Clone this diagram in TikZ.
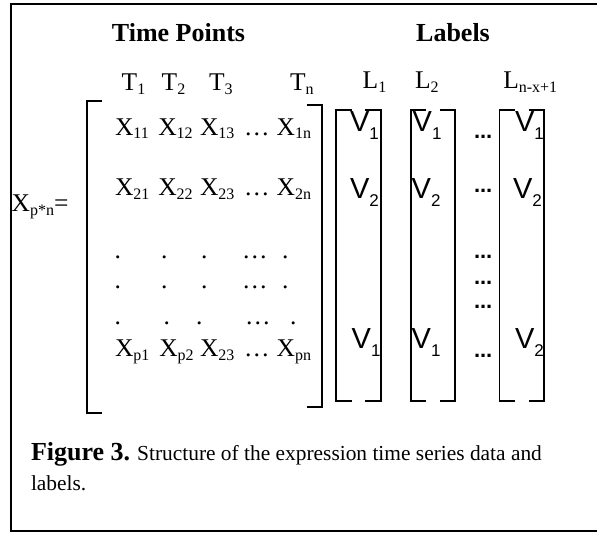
\documentclass[tikz,border=0pt]{standalone}
\usepackage{fontspec}
\setmainfont{Liberation Serif}
\setsansfont{Liberation Sans}
\newcommand\msub[1]{\raisebox{-3.5pt}{\fontsize{16}{18}\selectfont #1}}
\newcommand\vsub[1]{\raisebox{-8pt}{\fontsize{17}{19}\selectfont\sffamily #1}}
\tikzset{
  txt/.style={inner sep=0pt, outer sep=0pt, anchor=base west},
  head/.style={inner sep=0pt, outer sep=0pt, anchor=base, font=\fontsize{26}{30}\selectfont\bfseries},
  mtx/.style={txt, font=\fontsize{25.5}{30}\selectfont},
  vv/.style={txt, font=\fontsize{29}{32}\selectfont\sffamily},
  ell/.style={txt, font=\fontsize{22}{26}\selectfont\sffamily\bfseries},
  capb/.style={txt, font=\fontsize{26}{30}\selectfont\bfseries},
  capr/.style={txt, font=\fontsize{21.4}{25}\selectfont},
  brk/.style={line width=1.6pt},
  framebox/.style={line width=1.8pt},
}
\begin{document}
\begin{tikzpicture}[x=1pt,y=-1pt]
\useasboundingbox (0,0) rectangle (597,533);
% frame
\draw[framebox] (597,4) -- (11,4) -- (11,531) -- (597,531);
% headings
\node[head] (tp) at (178.5,41.7) {Time Points};
\node[head] (lb) at (453,41.7) {Labels};
% T row
\node[mtx] (t1) at (121.7,90.7) {T\msub{1}};
\node[mtx] (t2) at (161.7,90.7) {T\msub{2}};
\node[mtx] (t3) at (209,90.7) {T\msub{3}};
\node[mtx] (tn) at (290,90.7) {T\msub{n}};
% L row
\node[mtx] (l1) at (362.7,88.5) {L\msub{1}};
\node[mtx] (l2) at (415,88.5) {L\msub{2}};
\node[mtx] (l3) at (503.3,88.5) {L\msub{n-x+1}};
% X label
\node[mtx] (xpn) at (11.7,211.7) {X\msub{p*n}=};
% matrix brackets
\draw[brk] (102,101) -- (87,101) -- (87,413) -- (102,413);
\draw[brk] (306.5,105) -- (322,105) -- (322,407) -- (306.5,407);
% row 1
\node[mtx] (x11) at (115,135) {X\msub{11}};
\node[mtx] (x12) at (158.3,135) {X\msub{12}};
\node[mtx] (x13) at (200,135) {X\msub{13}};
\node[mtx] (x1e) at (244,135) {…};
\node[mtx] (x1n) at (276.7,135) {X\msub{1n}};
% row 2
\node[mtx] (x21) at (115,195.5) {X\msub{21}};
\node[mtx] (x22) at (158.3,195.5) {X\msub{22}};
\node[mtx] (x23) at (200,195.5) {X\msub{23}};
\node[mtx] (x2e) at (244,195.5) {…};
\node[mtx] (x2n) at (276.7,195.5) {X\msub{2n}};
% dot rows
\node[mtx] (da1) at (114.7,258.2) {.};
\node[mtx] (da2) at (161,258.2) {.};
\node[mtx] (da3) at (201,258.2) {.};
\node[mtx] (dae) at (242,258.2) {…};
\node[mtx] (da5) at (282,258.2) {.};
\node[mtx] (db1) at (114.7,288.2) {.};
\node[mtx] (db2) at (161,288.2) {.};
\node[mtx] (db3) at (201,288.2) {.};
\node[mtx] (dbe) at (242,288.2) {…};
\node[mtx] (db5) at (282,288.2) {.};
\node[mtx] (dc1) at (114.7,324.8) {.};
\node[mtx] (dc2) at (163.7,324.8) {.};
\node[mtx] (dc3) at (196,324.8) {.};
\node[mtx] (dce) at (245,324.8) {…};
\node[mtx] (dc5) at (290,324.8) {.};
% row p
\node[mtx] (xp1) at (115,356.7) {X\msub{p1}};
\node[mtx] (xp2) at (159.3,356.7) {X\msub{p2}};
\node[mtx] (xp3) at (200,356.7) {X\msub{23}};
\node[mtx] (xpe) at (244,356.7) {…};
\node[mtx] (xpn2) at (276.7,356.7) {X\msub{pn}};
% label brackets
\foreach \xl/\xr/\nm in {336/380.7/a, 410.7/455/b, 499.3/544/c}{
  \draw[brk] (\xl+15.5,110) -- (\xl,110) -- (\xl,400.7) -- (\xl+15.5,400.7);
  \draw[brk] (\xr-15.5,110) -- (\xr,110) -- (\xr,400.7) -- (\xr-15.5,400.7);
}
% V entries
\node[vv] (va1) at (350,131.7) {V\vsub{1}};
\node[vv] (vb1) at (412.7,131.7) {V\vsub{1}};
\node[vv] (vc1) at (515,131.7) {V\vsub{1}};
\node[vv] (va2) at (350,198.3) {V\vsub{2}};
\node[vv] (vb2) at (411.7,198.3) {V\vsub{2}};
\node[vv] (vc2) at (513,198.3) {V\vsub{2}};
\node[vv] (va3) at (351.7,348) {V\vsub{1}};
\node[vv] (vb3) at (411.7,348) {V\vsub{1}};
\node[vv] (vc3) at (515,348) {V\vsub{2}};
% label ellipses
\node[ell] (e1) at (474,138.5) {...};
\node[ell] (e2) at (474,192) {...};
\node[ell] (e3) at (474,258.5) {...};
\node[ell] (e4) at (474,284) {...};
\node[ell] (e5) at (474,308.5) {...};
\node[ell] (e6) at (474,357) {...};
% caption
\node[capb] (cap1) at (31,460.5) {Figure 3.};
\node[capr, anchor=base west] (cap2) at ([xshift=7pt]cap1.base east) {Structure of the expression time series data and};
\node[capr] (cap3) at (31,490.5) {labels.};
\end{tikzpicture}
\end{document}
